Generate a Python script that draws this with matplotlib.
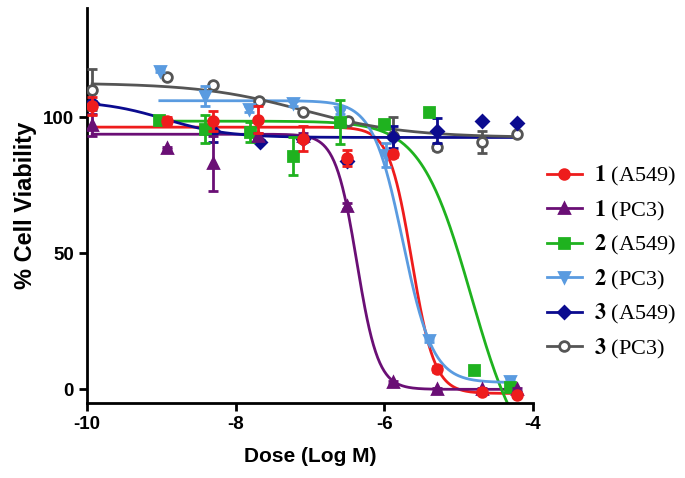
import numpy as np
import matplotlib
matplotlib.use("Agg")
import matplotlib.pyplot as plt
from matplotlib.lines import Line2D

plt.rcParams['mathtext.fontset'] = 'stix'
plt.rcParams['axes.unicode_minus'] = False

# ---- data ----
labels = [r"$\mathbf{1}$ (A549)", r"$\mathbf{1}$ (PC3)", r"$\mathbf{2}$ (A549)",
          r"$\mathbf{2}$ (PC3)", r"$\mathbf{3}$ (A549)", r"$\mathbf{3}$ (PC3)"]
colors = ["#ee1c1c", "#6a0f75", "#1fb21f", "#5a9be0", "#0b0b8f", "#555555"]
markers = ["o", "^", "s", "v", "D", "o"]

x1a = [-9.93, -8.92, -8.30, -7.70, -7.09, -6.50, -5.88, -5.29, -4.68, -4.21]
y1a = [104, 98.5, 98.5, 99, 92, 85, 86.4, 7.4, -1, -2]
e1a = [3.3, 1.5, 3.7, 5, 4.6, 3, 1, 1, 0.5, 0.5]

x1p = [-9.93, -8.92, -8.30, -7.70, -7.09, -6.50, -5.88, -5.29, -4.68, -4.21]
y1p = [97, 88.6, 83, 93, 93, 67.3, 2.6, 0, 0, 0]
e1p = [4, 0.5, 10, 1, 1, 1, 0.5, 0.5, 0.5, 0.5]

x2a = [-9.03, -8.41, -7.81, -7.23, -6.60, -6.00, -5.40, -4.79, -4.31]
y2a = [99, 95.6, 94.5, 85.7, 98.2, 97.4, 102, 7, 0.7]
e2a = [1, 5, 3.5, 7, 8, 0.5, 0.5, 0.5, 0.5]

x2p = [-9.02, -8.41, -7.82, -7.23, -6.60, -5.98, -5.40, -4.31]
y2p = [117, 107.7, 103, 105, 102, 86, 18, 3]
e2p = [0.5, 3.7, 1, 1, 1, 4.5, 0.5, 0.5]

x3a = [-9.93, -8.30, -7.67, -7.09, -6.50, -5.88, -5.29, -4.68, -4.21]
y3a = [105, 95, 91, 92, 84, 92.6, 95, 98.5, 97.8]
e3a = [1, 4, 0.5, 1, 1, 4, 4.6, 0.5, 0.5]

x3p = [-9.93, -8.92, -8.30, -7.69, -7.09, -6.49, -5.88, -5.29, -4.68, -4.21]
y3p = [110, 114.7, 111.8, 106, 102, 98.5, 93, 89, 90.8, 93.7]
e3p = [7.5, 0.5, 0.5, 0.5, 0.5, 0.5, 7, 1, 4, 0.5]

# fitted curve parameters: top, bottom, logIC50, hill
fit_top = [96.3, 93.7, 98.5, 106, 106, 112.5]
fit_bottom = [-1.5, 0, -30, 2.5, 92.5, 92.5]
fit_logic50 = [-5.63, -6.37, -4.83, -5.75, -8.95, -7.09]
fit_hill = [2.84, 3.02, 1.27, 2.15, 1.03, 0.62]

xs_all = [x1a, x1p, x2a, x2p, x3a, x3p]
ys_all = [y1a, y1p, y2a, y2p, y3a, y3p]
es_all = [e1a, e1p, e2a, e2p, e3a, e3p]

fig = plt.figure(figsize=(6.85, 4.78), dpi=100)
ax = fig.add_axes([0.127, 0.157, 0.651, 0.826])

for i in range(6):
    xs, ys, es = xs_all[i], ys_all[i], es_all[i]
    c = colors[i]
    z = 10 - i
    xx = np.linspace(min(xs), max(xs), 400)
    T, B, L, H = fit_top[i], fit_bottom[i], fit_logic50[i], fit_hill[i]
    yy = B + (T - B) / (1 + 10 ** ((xx - L) * H))
    ax.plot(xx, yy, color=c, lw=2, zorder=2)
    mfc = "white" if i == 5 else c
    ax.errorbar(xs, ys, yerr=es, fmt=markers[i], color=c, ms=7 if markers[i] != "D" else 6,
                mfc=mfc, mec=c, mew=2, elinewidth=2, capsize=3.5, capthick=2, zorder=z)

ax.set_xlim(-10, -4)
ax.set_ylim(-5, 140)
ax.set_xticks([-10, -8, -6, -4])
ax.set_yticks([0, 50, 100])
for s in ["top", "right"]:
    ax.spines[s].set_visible(False)
for s in ["left", "bottom"]:
    ax.spines[s].set_linewidth(2)
ax.tick_params(width=2, length=6, labelsize=13.5)
for lab in ax.get_xticklabels() + ax.get_yticklabels():
    lab.set_fontweight("bold")
    lab.set_family("Liberation Sans")
ax.set_xlabel("Dose (Log M)", fontsize=15, fontweight="bold", family="Liberation Sans", labelpad=10)
ax.set_ylabel("% Cell Viability", fontsize=17, fontweight="bold", family="Liberation Sans", labelpad=4)

handles = []
for i in range(6):
    mfc = "white" if i == 5 else colors[i]
    handles.append(Line2D([0], [0], color=colors[i], lw=2, marker=markers[i],
                          ms=7 if markers[i] != "D" else 6, mfc=mfc, mec=colors[i], mew=2))
leg = fig.legend(handles, labels, loc="upper left", bbox_to_anchor=(0.785, 0.675),
                 frameon=False, prop={"family": "Liberation Serif", "size": 16},
                 handlelength=1.6, labelspacing=0.47, handletextpad=0.55, borderaxespad=0)

fig.savefig("out.png", dpi=100)
